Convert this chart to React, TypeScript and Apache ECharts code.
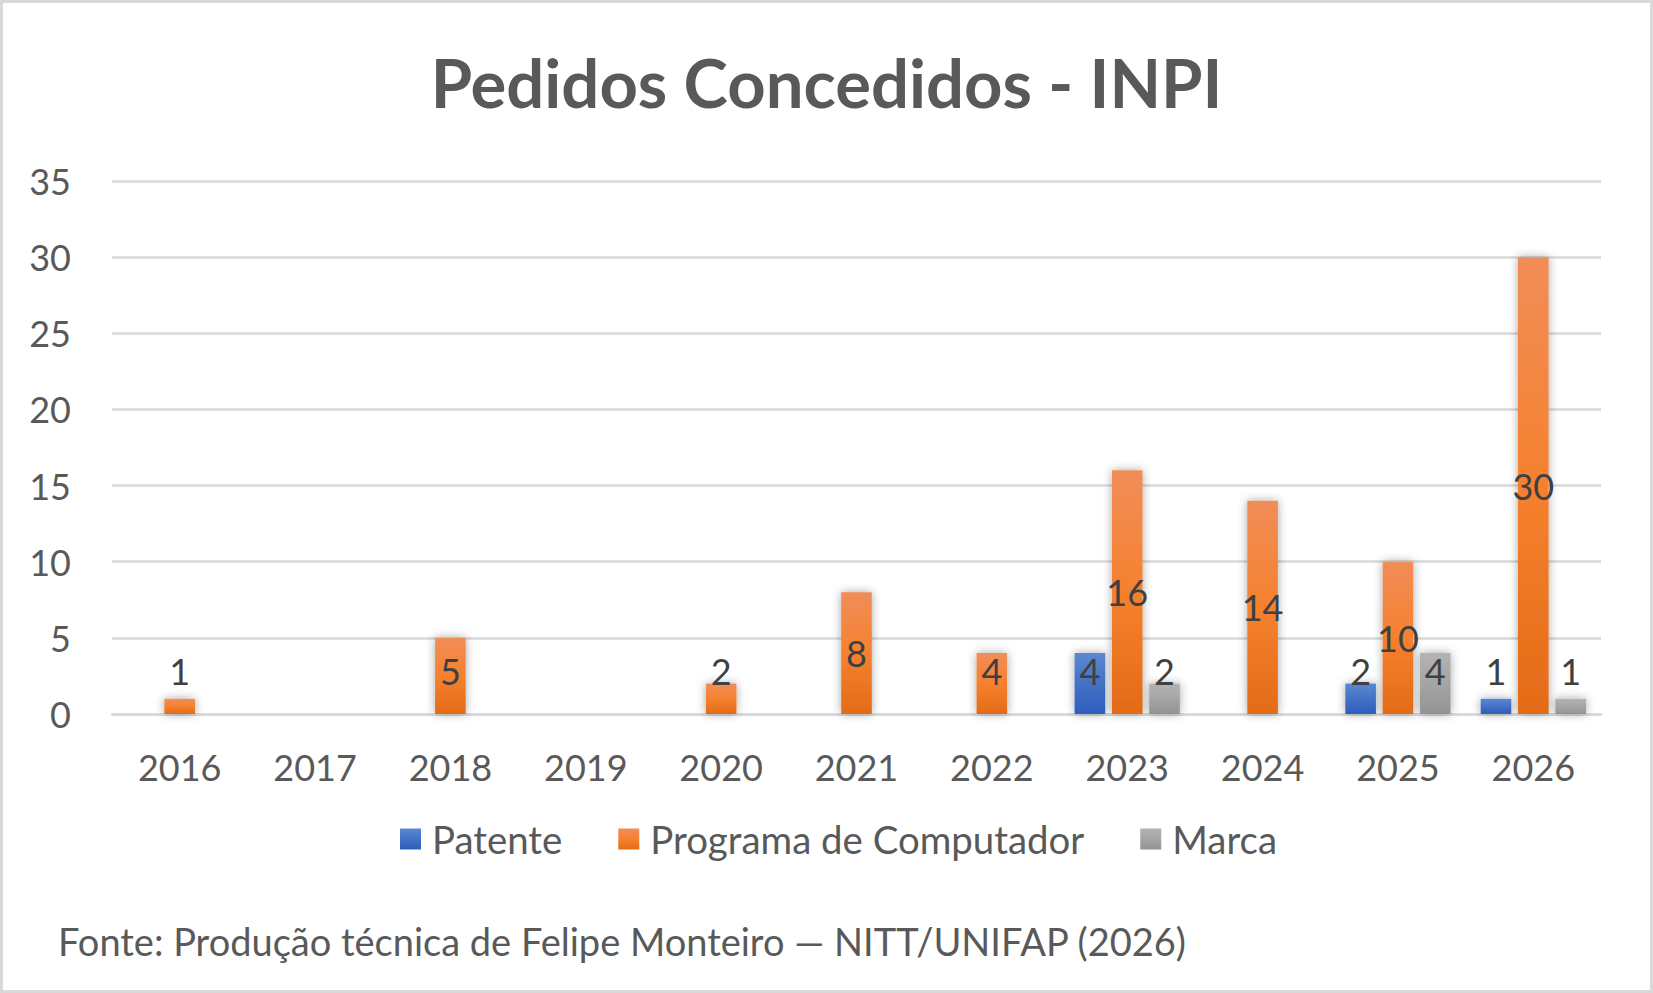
import {useEffect, useRef} from 'react';
import * as echarts from 'echarts';

const years = ['2016', '2017', '2018', '2019', '2020', '2021', '2022', '2023', '2024', '2025', '2026'];
const patente = [0, 0, 0, 0, 0, 0, 0, 4, 0, 2, 1];
const programa = [1, 0, 5, 0, 2, 8, 4, 16, 14, 10, 30];
const marca = [0, 0, 0, 0, 0, 0, 0, 2, 0, 4, 1];

const FONT = 'Lato, "Noto Sans", sans-serif';

function grad(top: string, mid: string, bottom: string) {
    return new echarts.graphic.LinearGradient(0, 0, 0, 1, [
        {offset: 0, color: top},
        {offset: 0.5, color: mid},
        {offset: 1, color: bottom},
    ]);
}

// small bars get their label lifted to a fixed height, bigger ones keep it centred
function toData(values: number[]) {
    return values.map((v) => {
        if (v === 0) return '-';
        if (v < 5.7) return {value: v, label: {position: 'insideBottom', distance: 25}};
        return {value: v, label: {position: 'inside'}};
    });
}

export default function App() {
    const chartRef = useRef<HTMLDivElement | null>(null);

    useEffect(() => {
        document.body.style.margin = '0';
        const el = chartRef.current;
        if (!el) return;
        const chart = echarts.init(el, null, {renderer: 'svg'});

        const label = {
            show: true,
            color: '#404040',
            fontFamily: FONT,
            fontSize: 36,
            lineHeight: 36,
        };
        const itemBase = {
            shadowBlur: 10,
            shadowColor: 'rgba(0, 0, 0, 0.35)',
        };

        chart.setOption({
            animation: false,
            backgroundColor: '#ffffff',
            title: [
                {
                    text: 'Pedidos Concedidos - INPI',
                    left: 'center',
                    top: 46,
                    padding: 0,
                    textStyle: {color: '#595959', fontFamily: FONT, fontWeight: 'bold', fontSize: 67, lineHeight: 72},
                },
                {
                    text: 'Fonte: Produção técnica de Felipe Monteiro — NITT/UNIFAP (2026)',
                    left: 58,
                    top: 921,
                    padding: 0,
                    textStyle: {color: '#595959', fontFamily: FONT, fontWeight: 'normal', fontSize: 38, lineHeight: 40},
                },
            ],
            legend: {
                left: 400,
                top: 819,
                padding: 0,
                icon: 'rect',
                itemWidth: 21,
                itemHeight: 21,
                itemGap: 56,
                textStyle: {color: '#595959', fontFamily: FONT, fontSize: 38.4, lineHeight: 40, padding: [0, 0, 0, 6]},
                data: ['Patente', 'Programa de Computador', 'Marca'],
            },
            grid: {left: 112, right: 52, top: 181, bottom: 279},
            xAxis: {
                type: 'category',
                data: years,
                axisLine: {lineStyle: {color: '#d9d9d9', width: 2.5}},
                axisTick: {show: false},
                axisLabel: {color: '#595959', fontFamily: FONT, fontSize: 36, lineHeight: 36, margin: 35},
            },
            yAxis: {
                type: 'value',
                min: 0,
                max: 35,
                interval: 5,
                axisLine: {show: false},
                axisTick: {show: false},
                splitLine: {lineStyle: {color: '#d9d9d9', width: 2.5}},
                axisLabel: {color: '#595959', fontFamily: FONT, fontSize: 36, margin: 41},
            },
            series: [
                {
                    name: 'Patente',
                    type: 'bar',
                    barWidth: 30.6,
                    barGap: '22%',
                    data: toData(patente),
                    label,
                    itemStyle: {...itemBase, color: grad('#5b88d4', '#4472c4', '#2e5dbd')},
                },
                {
                    name: 'Programa de Computador',
                    type: 'bar',
                    barWidth: 30.6,
                    barGap: '22%',
                    data: toData(programa),
                    label,
                    itemStyle: {...itemBase, color: grad('#f18d58', '#f5812f', '#e46b17')},
                },
                {
                    name: 'Marca',
                    type: 'bar',
                    barWidth: 30.6,
                    barGap: '22%',
                    data: toData(marca),
                    label,
                    itemStyle: {...itemBase, color: grad('#b3b3b3', '#a5a5a5', '#939393')},
                },
            ],
            graphic: [
                {
                    type: 'rect',
                    shape: {x: 1.5, y: 1.5, width: 1650, height: 990},
                    style: {fill: 'none', stroke: '#d9d9d9', lineWidth: 3},
                    silent: true,
                },
            ],
        });

        return () => chart.dispose();
    }, []);

    return <div ref={chartRef} style={{width: '1653px', height: '993px'}}/>;
}
